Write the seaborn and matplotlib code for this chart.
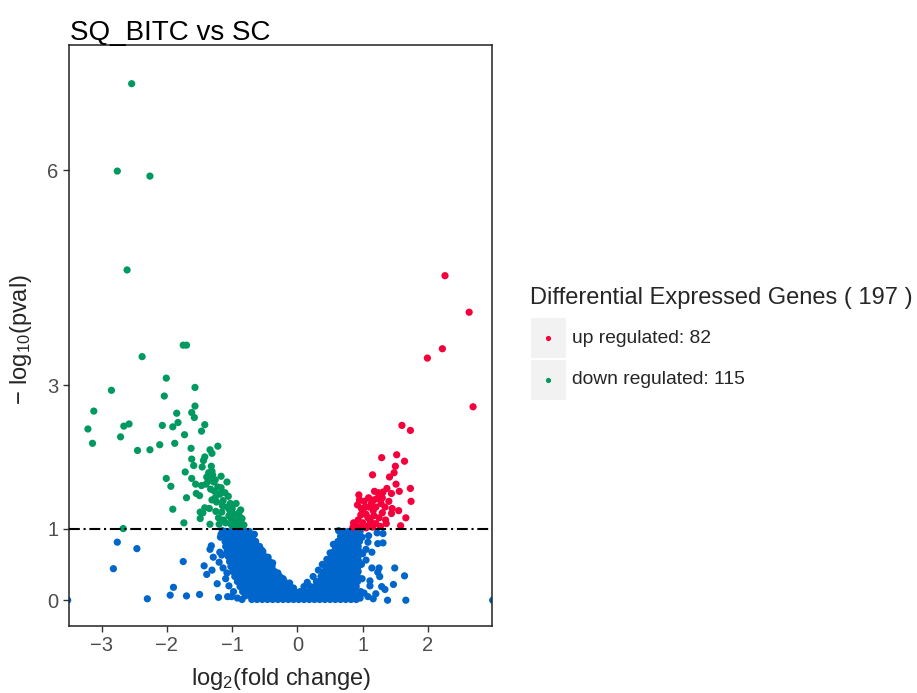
import numpy as np
import pandas as pd
import matplotlib
matplotlib.use("Agg")
import matplotlib.pyplot as plt
from matplotlib.patches import Rectangle
import seaborn as sns

sns.set_theme(style="white")
plt.rcParams['font.family'] = ['Liberation Sans', 'DejaVu Sans']
plt.rcParams['mathtext.fontset'] = 'custom'
plt.rcParams['mathtext.rm'] = 'Liberation Sans'
plt.rcParams['mathtext.it'] = 'Liberation Sans'

# ---------------- data (log2 fold change, -log10 pval) ----------------
down_x = [-2.54, -2.76, -2.26, -2.61,
          -1.75, -1.70, -2.38, -2.01, -2.85, -1.57, -2.04,
          -3.12, -1.57, -1.85, -1.62, -1.58, -3.21, -2.66, -2.58, -2.07, -1.91, -1.83, -1.42, -1.47, -2.71, -1.73,
          -3.14, -2.45, -2.26, -2.11, -1.88, -1.63, -1.22, -1.34, -1.31, -1.62, -1.42, -1.44, -1.59, -1.46, -1.32, -1.72, -1.31,
          -1.62, -1.17, -2.01, -1.56, -1.47, -1.37, -1.28, -1.08, -1.94, -1.27, -1.17, -1.55, -1.50, -1.06, -1.70, -1.31, -1.24, -1.14, -1.03, -0.94,
          -1.35, -1.25, -1.16, -1.04, -0.87, -1.91, -1.49, -1.45, -1.49, -1.21, -1.13, -1.01, -0.94, -0.85, -1.74, -1.34, -1.01, -0.95, -0.90, -2.67,
          -1.39, -1.36, -1.33, -1.30, -1.26, -1.40, -1.22, -1.11, -1.33, -1.19, -1.26, -1.08, -1.15, -0.98, -1.05, -0.89, -0.92, -1.10, -0.97, -0.82, -0.87, -1.20, -1.42, -1.00, -0.90]
down_y = [7.21, 5.99, 5.92, 4.61,
          3.56, 3.56, 3.40, 3.10, 2.93, 2.97, 2.85,
          2.64, 2.71, 2.61, 2.62, 2.55, 2.39, 2.43, 2.46, 2.44, 2.42, 2.48, 2.45, 2.36, 2.28, 2.31,
          2.19, 2.09, 2.10, 2.17, 2.19, 2.12, 2.15, 2.10, 2.05, 1.97, 2.00, 1.95, 1.88, 1.86, 1.87, 1.79, 1.80,
          1.70, 1.73, 1.70, 1.62, 1.60, 1.66, 1.65, 1.65, 1.59, 1.52, 1.57, 1.49, 1.46, 1.45, 1.43, 1.40, 1.37, 1.39, 1.35, 1.35,
          1.28, 1.24, 1.23, 1.26, 1.26, 1.27, 1.23, 1.22, 1.14, 1.15, 1.12, 1.13, 1.11, 1.14, 1.08, 1.06, 1.05, 1.03, 1.03, 1.00,
          1.72, 1.78, 1.70, 1.75, 1.68, 1.62, 1.58, 1.50, 1.55, 1.48, 1.43, 1.30, 1.32, 1.20, 1.18, 1.17, 1.08, 1.08, 1.10, 1.05, 1.09, 1.06, 1.29, 1.28, 1.22]

up_x = [2.26, 2.63, 2.22, 1.99, 2.69, 1.60, 1.73,
        1.29, 1.52, 1.64, 1.50, 1.15, 1.41, 1.51, 1.73, 1.37, 1.31, 1.18, 1.24, 1.44, 1.56, 0.94, 1.09, 1.30, 1.17, 1.13, 1.40, 1.74, 0.92,
        1.04, 1.00, 0.97, 1.05, 1.16, 1.20, 1.45, 1.44, 1.30, 1.66, 1.58,
        0.93, 0.88, 1.00, 1.10, 1.20, 1.27, 1.15, 1.05, 0.95, 0.85,
        1.08, 1.12, 1.25, 1.35, 1.02, 1.22, 1.34, 1.10, 0.98, 1.28, 0.86, 1.36, 1.17, 0.95, 1.48, 1.55]
up_y = [4.53, 4.02, 3.51, 3.38, 2.70, 2.44, 2.37,
        1.99, 2.03, 1.94, 1.87, 1.75, 1.72, 1.62, 1.56, 1.56, 1.51, 1.52, 1.50, 1.49, 1.52, 1.47, 1.43, 1.43, 1.40, 1.35, 1.38, 1.38, 1.33,
        1.30, 1.24, 1.19, 1.20, 1.25, 1.30, 1.28, 1.21, 1.22, 1.15, 1.04,
        1.12, 1.07, 1.08, 1.05, 1.07, 1.03, 1.02, 1.01, 1.02, 1.02,
        1.15, 1.10, 1.15, 1.12, 1.38, 1.42, 1.30, 1.30, 1.28, 1.35, 1.08, 1.07, 1.18, 1.40, 1.78, 1.25]

# scattered non-significant genes
ns_x = [-3.52, -2.76, -2.46, -2.82, -2.30, -1.75, -1.90, -1.95, -1.70, -1.50, -1.43, -1.31, -1.39, -1.23, -1.21,
        -1.07, -1.01, -1.32, -1.34, -1.29, -1.19, -1.17, -1.20,
        2.99, 1.66, 1.38, 1.64, 1.49, 1.47, 1.25, 1.23, 1.26, 1.29, 1.34, 1.20, 1.14, 1.05, 1.14, 1.23, 1.31,
        1.22, 1.31, 1.09, 1.11, 1.11, 1.02, 1.08, 1.16, 1.08, 1.05,
        -1.18, -1.16, -1.14, -1.10, -1.05, -0.98, -0.92, -0.85, -1.15, -1.08,
        -0.66, -0.55, -0.45, -0.38, -0.30, -0.22, -0.12, -0.06,
        0.63, 0.55, 0.50, 0.45, 0.38, 0.32, 0.24, 0.15, 0.10,
        0.99, 1.00, 0.98, 0.99, 0.97, 0.96]
ns_y = [0.00, 0.81, 0.72, 0.44, 0.02, 0.54, 0.18, 0.07, 0.06, 0.08, 0.48, 0.42, 0.36, 0.23, 0.04,
        0.05, 0.05, 0.76, 0.71, 0.60, 0.67, 0.92, 0.53,
        0.00, 0.00, 0.00, 0.34, 0.45, 0.22, 0.45, 0.39, 0.33, 0.19, 0.15, 0.09, 0.45, 0.56, 0.67, 0.79, 0.80,
        0.94, 0.93, 0.90, 0.27, 0.20, 0.10, 0.05, 0.02, 0.81, 0.71,
        0.88, 0.63, 0.45, 0.30, 0.20, 0.12, 0.03, 0.01, 0.97, 0.38,
        0.92, 0.70, 0.60, 0.52, 0.38, 0.30, 0.24, 0.17,
        0.97, 0.78, 0.66, 0.57, 0.50, 0.42, 0.33, 0.25, 0.19,
        0.88, 0.65, 0.50, 0.30, 0.12, 0.03]

# dense non-significant cloud, read row by row (-log10 p : fold changes)
cloud_rows = {
    0.96: [-1.10, -1.02, -0.95, -0.87, -0.80, -0.74, 0.71, 0.78, 0.85, 0.91, 0.96],
    0.89: [-1.12, -1.05, -0.98, -0.91, -0.83, -0.76, -0.69, 0.66, 0.73, 0.80, 0.87, 0.94],
    0.82: [-1.11, -1.04, -0.96, -0.88, -0.80, -0.72, -0.64, 0.62, 0.69, 0.76, 0.83, 0.90, 0.95],
    0.75: [-1.10, -1.02, -0.94, -0.86, -0.78, -0.70, -0.62, -0.58, 0.58, 0.65, 0.72, 0.79, 0.86, 0.93],
    0.68: [-1.08, -1.00, -0.92, -0.84, -0.76, -0.68, -0.60, -0.53, 0.56, 0.63, 0.70, 0.77, 0.84, 0.91, 0.95],
    0.61: [-1.06, -0.98, -0.90, -0.82, -0.74, -0.66, -0.58, -0.50, 0.52, 0.59, 0.66, 0.73, 0.80, 0.87, 0.93],
    0.54: [-1.04, -0.96, -0.88, -0.80, -0.72, -0.64, -0.56, -0.49, -0.43, 0.48, 0.55, 0.62, 0.69, 0.76, 0.83, 0.90, 0.94],
    0.47: [-1.02, -0.94, -0.86, -0.78, -0.70, -0.62, -0.54, -0.46, -0.39, 0.44, 0.51, 0.58, 0.65, 0.72, 0.79, 0.86, 0.93],
    0.40: [-0.99, -0.91, -0.83, -0.75, -0.67, -0.59, -0.51, -0.43, -0.35, 0.40, 0.47, 0.54, 0.61, 0.68, 0.75, 0.82, 0.89, 0.93],
    0.33: [-0.96, -0.88, -0.80, -0.72, -0.64, -0.56, -0.48, -0.40, -0.33, -0.27, 0.36, 0.43, 0.50, 0.57, 0.64, 0.71, 0.78, 0.85, 0.92],
    0.26: [-0.92, -0.84, -0.76, -0.68, -0.60, -0.52, -0.44, -0.36, -0.28, -0.20, 0.29, 0.36, 0.43, 0.50, 0.57, 0.64, 0.71, 0.78, 0.85, 0.92],
    0.19: [-0.88, -0.80, -0.72, -0.64, -0.56, -0.48, -0.40, -0.32, -0.24, -0.16, -0.11, 0.20, 0.27, 0.34, 0.41, 0.48, 0.55, 0.62, 0.69, 0.76, 0.83, 0.90],
    0.12: [-0.84, -0.76, -0.68, -0.60, -0.52, -0.44, -0.36, -0.28, -0.20, -0.12, -0.04, 0.04, 0.11, 0.18, 0.25, 0.32, 0.39, 0.46, 0.53, 0.60, 0.67, 0.74, 0.81, 0.88],
    0.06: [-0.80, -0.72, -0.64, -0.56, -0.48, -0.40, -0.32, -0.24, -0.16, -0.08, 0.00, 0.08, 0.15, 0.22, 0.29, 0.36, 0.43, 0.50, 0.57, 0.64, 0.71, 0.78, 0.85, 0.90],
    0.01: [-0.70, -0.62, -0.54, -0.46, -0.38, -0.30, -0.22, -0.14, -0.06, 0.02, 0.10, 0.18, 0.26, 0.34, 0.42, 0.50, 0.58, 0.66, 0.74, 0.82, 0.90],
}

title = "SQ_BITC vs SC"
legend_title = "Differential Expressed Genes ( 197 )"
labels = ["up regulated: 82", "down regulated: 115"]
x_ticks = [-3, -2, -1, 0, 1, 2]
y_ticks = [0, 1, 3, 6]

col_up, col_down, col_ns = "#F5003A", "#00995F", "#0066CC"

# ---------------- build table ----------------
cx, cy = [], []
for yv, xs in cloud_rows.items():
    cx += xs
    cy += [yv] * len(xs)
df = pd.DataFrame({
    "fc": list(cx) + ns_x + down_x + up_x,
    "p": list(cy) + ns_y + down_y + up_y,
    "grp": ["ns"] * (len(cx) + len(ns_x)) + ["down"] * len(down_x) + ["up"] * len(up_x),
})

fig = plt.figure(figsize=(9.17, 6.93), dpi=100)
W, H = 917, 693
ax = fig.add_axes([69 / W, 1 - 626 / H, (492 - 69) / W, (626 - 45) / H])

sns.scatterplot(data=df, x="fc", y="p", hue="grp",
                palette={"ns": col_ns, "down": col_down, "up": col_up},
                hue_order=["ns", "down", "up"], s=27, linewidth=0, alpha=1,
                legend=False, ax=ax, zorder=2)

ax.axhline(1, color="black", lw=1.5, ls=(0, (5.2, 1.8, 1.0, 1.8)), zorder=3)
ax.set_xlim(-3.50, 2.98)
ax.set_ylim(-0.36, 7.75)
ax.set_xticks(x_ticks)
ax.set_xticklabels(["\u22123", "\u22122", "\u22121", "0", "1", "2"])
ax.set_yticks(y_ticks)
ax.set_yticklabels([str(t) for t in y_ticks])
ax.tick_params(axis="both", which="major", direction="out", length=4.5, width=1.0,
               color="#333333", labelcolor="#4D4D4D", labelsize=14.5, pad=3,
               bottom=True, left=True)
ax.set_xlabel("")
ax.set_ylabel("")
for sp in ax.spines.values():
    sp.set_color("#222222")
    sp.set_linewidth(1.1)
ax.grid(False)

fig.text(70 / W, 1 - 40 / H, title, fontsize=20, ha="left", va="baseline", color="black")
fig.text(281 / W, 1 - 679 / H, r"log$_2$(fold change)", fontsize=17, ha="center", va="center")
fig.text(21 / W, 1 - 340 / H, r"$-$ log$_{10}$(pval)", fontsize=17, ha="center", va="center",
         rotation=90)

# legend drawn in figure pixel space
lg = fig.add_axes([0, 0, 1, 1], facecolor="none")
lg.set_xlim(0, W)
lg.set_ylim(H, 0)
lg.axis("off")
lg.text(530, 298, legend_title, fontsize=17.0, ha="left", va="center")
for i, (lab, colr) in enumerate(zip(labels, [col_up, col_down])):
    top = 318 + i * 41.5
    lg.add_patch(Rectangle((531, top), 34.5, 40, facecolor="#F2F2F2", edgecolor="none"))
    lg.scatter([548.3], [top + 20], s=14, color=colr, linewidths=0)
    lg.text(572, top + 20.5, lab, fontsize=13.9, ha="left", va="center")

fig.savefig("out.png", dpi=100)
